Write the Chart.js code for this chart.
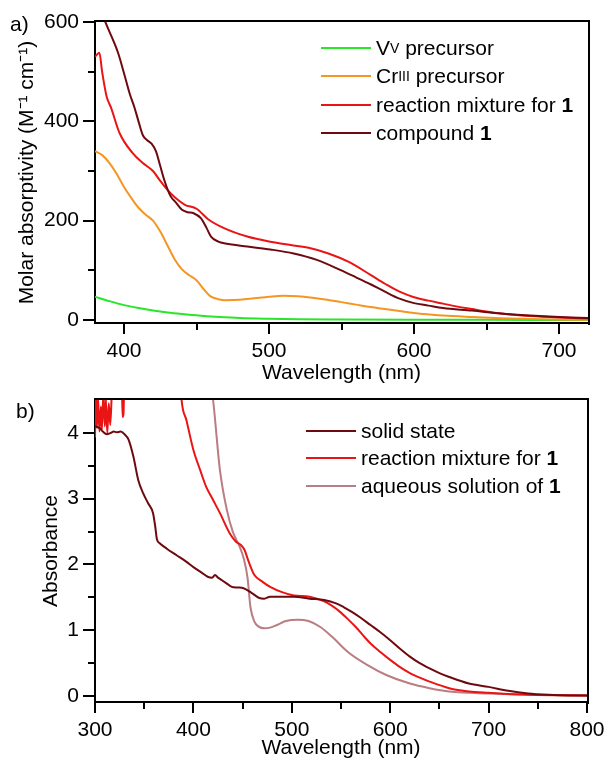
<!DOCTYPE html>
<html>
<head>
<meta charset="utf-8">
<script src="https://cdn.jsdelivr.net/npm/chart.js@4/dist/chart.umd.min.js"></script>
<style>
  body { margin: 0; background: #fff; font-family: "Liberation Sans", Arial, sans-serif; }
  #wrap { position: relative; width: 606px; height: 763px; overflow: hidden; }
  canvas { position: absolute; left: 0; }
  #chartA { top: 0; }
  #chartB { top: 392px; }
  .tag { position: absolute; font-size: 21px; line-height: 21px; color: #000; }
  .row { position: absolute; height: 28px; display: flex; align-items: center; font-size: 21px; color: #000; white-space: nowrap; }
  .row .ln { display: inline-block; width: 50px; height: 2px; margin-right: 5px; }
  .row sup { font-size: 14px; vertical-align: 7px; line-height: 0; }
</style>
</head>
<body>
<div id="wrap">
  <canvas id="chartA" width="606" height="392"></canvas>
  <canvas id="chartB" width="606" height="371"></canvas>
  <div class="tag" style="left:10px;top:13px">a)</div>
  <div class="tag" style="left:16px;top:400px">b)</div>

  <div class="row" style="left:321px;top:34px"><span class="ln" style="background:rgb(40,230,40)"></span>V<sup>V</sup>&nbsp;precursor</div>
  <div class="row" style="left:321px;top:62px"><span class="ln" style="background:rgb(245,150,35)"></span>Cr<sup>III</sup>&nbsp;precursor</div>
  <div class="row" style="left:321px;top:91px"><span class="ln" style="background:rgb(235,20,20)"></span>reaction mixture for&nbsp;<b>1</b></div>
  <div class="row" style="left:321px;top:119px"><span class="ln" style="background:rgb(110,10,15)"></span>compound&nbsp;<b>1</b></div>

  <div class="row" style="left:306px;top:417px"><span class="ln" style="background:rgb(110,10,15)"></span>solid state</div>
  <div class="row" style="left:306px;top:444px"><span class="ln" style="background:rgb(235,20,20)"></span>reaction mixture for&nbsp;<b>1</b></div>
  <div class="row" style="left:306px;top:472px"><span class="ln" style="background:rgb(185,125,130)"></span>aqueous solution of&nbsp;<b>1</b></div>
</div>
<script>
// panel a: molar absorptivity (M-1 cm-1) vs wavelength (nm)
const vNm  = [380, 390, 400, 410, 420, 430, 440, 450, 460, 470, 480, 500, 520, 550, 600, 650, 720];
const vEps = [47, 38, 30, 24, 19, 15, 12, 9.5, 7, 5.5, 4, 2.5, 1.5, 1, 0.5, 0.3, 0.2];

const crNm  = [380, 385, 390, 395, 400, 405, 410, 415, 420, 425, 430, 435, 440, 445, 450, 455, 460, 465, 470, 480, 490, 500, 510, 520, 530, 540, 550, 560, 570, 580, 590, 600, 620, 640, 660, 680, 700, 720];
const crEps = [340, 332, 316, 294, 268, 246, 226, 212, 200, 178, 150, 122, 102, 90, 80, 62, 47, 42, 40, 41, 44, 47, 49, 48, 45, 41, 36, 31, 26, 22, 18, 14, 9, 6, 3.5, 2, 1, 0.5];

const rxNm  = [380, 383, 385, 388, 391, 397, 406, 413, 420, 425, 430, 435, 442, 450, 458, 469, 485, 500, 515, 528, 541, 555, 570, 580, 590, 600, 610, 620, 630, 640, 650, 660, 680, 700, 720];
const rxEps = [530, 538, 498, 450, 428, 376, 336, 316, 300, 280, 262, 247, 232, 224, 203, 185, 168, 158, 151, 145, 134, 117, 91, 73, 57, 46, 39, 33, 27, 22, 17, 13, 8, 5, 3];

const cpNm  = [380, 384, 387, 393, 396, 400, 404, 407, 410, 413, 416, 419, 422, 425, 428, 432, 436, 440, 444, 448, 453, 457, 460, 465, 470, 485, 501, 517, 533, 549, 560, 570, 580, 590, 600, 610, 620, 640, 660, 680, 700, 720];
const cpEps = [660, 625, 601, 560, 537, 497, 455, 430, 400, 372, 362, 355, 340, 310, 280, 250, 236, 222, 217, 215, 205, 185, 168, 158, 154, 148, 142, 134, 121, 101, 86, 72, 57, 43, 34, 29, 24, 19, 13, 9, 6, 4];

// panel b: absorbance vs wavelength (nm)
const sdNm  = [300, 302, 305, 308, 312, 316, 319, 322, 326, 330, 334, 339, 344, 349, 354, 359, 361, 363, 366, 373, 383, 393, 400, 408, 415, 419, 422, 425, 429, 434, 439, 445, 451, 459, 467, 472, 478, 490, 502, 518, 533, 545, 553, 561, 570, 580, 590, 600, 610, 620, 630, 640, 650, 660, 680, 700, 720, 740, 760, 780, 800];
const sdAbs = [4.1, 4.09, 4.07, 4.02, 3.98, 4.0, 4.02, 4.01, 4.02, 3.98, 3.9, 3.64, 3.28, 3.08, 2.93, 2.78, 2.6, 2.38, 2.32, 2.24, 2.14, 2.04, 1.96, 1.88, 1.81, 1.8, 1.84, 1.8, 1.76, 1.71, 1.66, 1.65, 1.64, 1.57, 1.49, 1.48, 1.51, 1.51, 1.51, 1.48, 1.46, 1.41, 1.35, 1.28, 1.19, 1.08, 0.97, 0.85, 0.72, 0.6, 0.5, 0.42, 0.35, 0.29, 0.19, 0.14, 0.08, 0.04, 0.02, 0.01, 0.01];

const rbNm  = [300, 301, 302, 303, 304.5, 306, 307, 308.5, 310, 311, 312.5, 314, 315.5, 317, 318, 327, 328, 329, 330, 386, 388, 393, 400, 407, 413, 420, 427, 437, 443, 448, 452, 456, 462, 470, 478, 490, 502, 518, 533, 541, 549, 557, 565, 572, 580, 590, 600, 610, 620, 630, 640, 660, 680, 700, 740, 800];
const rbAbs = [3.93, 4.6, 4.08, 4.55, 4.02, 4.4, 4.05, 4.6, 4.1, 4.5, 4.0, 4.45, 4.12, 4.6, 5, 5, 4.24, 4.3, 5, 5, 4.5, 4.19, 3.74, 3.43, 3.18, 2.98, 2.78, 2.47, 2.35, 2.3, 2.22, 2.05, 1.84, 1.74, 1.66, 1.58, 1.53, 1.51, 1.44, 1.37, 1.28, 1.17, 1.05, 0.93, 0.8, 0.67, 0.55, 0.44, 0.35, 0.28, 0.22, 0.12, 0.07, 0.05, 0.02, 0.01];

const aqNm  = [300, 307, 309, 310.5, 312, 320, 415, 420, 427, 434, 440, 447, 451, 455, 458, 462, 466, 472, 478, 485, 494, 506, 517, 529, 541, 557, 577, 596, 620, 640, 660, 700, 750, 800];
const aqAbs = [5, 5, 4.25, 4.3, 5, 5, 5, 4.5, 3.43, 2.83, 2.5, 2.27, 2.1, 1.8, 1.35, 1.13, 1.06, 1.03, 1.04, 1.08, 1.14, 1.16, 1.14, 1.05, 0.9, 0.67, 0.47, 0.32, 0.19, 0.12, 0.07, 0.04, 0.02, 0.01];

// axis ticks
const xMajorA = [400, 500, 600, 700];
const xMinorA = [450, 550, 650];
const yMajorA = [0, 200, 400, 600];
const yMinorA = [100, 300, 500];
const xMajorB = [300, 400, 500, 600, 700, 800];
const xMinorB = [350, 450, 550, 650, 750];
const yMajorB = [0, 1, 2, 3, 4];
const yMinorB = [0.5, 1.5, 2.5, 3.5];

const GREEN = "rgb(40,230,40)";
const ORANGE = "rgb(245,150,35)";
const RED = "rgb(235,20,20)";
const DARK = "rgb(110,10,15)";
const ROSE = "rgb(185,125,130)";

Chart.defaults.font.family = '"Liberation Sans", Arial, sans-serif';
Chart.defaults.font.size = 21;
Chart.defaults.color = "#000";

const pts = (xs, ys) => xs.map((x, i) => ({ x: x, y: ys[i] }));

function line(label, xs, ys, color, order) {
  return {
    label: label,
    data: pts(xs, ys),
    borderColor: color,
    borderWidth: 2,
    pointRadius: 0,
    fill: false,
    cubicInterpolationMode: "monotone",
    order: order
  };
}

// draws the top/right frame and the major/minor tick marks
const frameTicks = {
  id: "frameTicks",
  afterDraw(chart, args, o) {
    const { ctx, chartArea: a } = chart;
    const x = chart.scales.x, y = chart.scales.y;
    ctx.save();
    ctx.strokeStyle = "#000";
    ctx.lineWidth = 2;
    ctx.beginPath();
    ctx.moveTo(a.left - 1, a.top - 1);
    ctx.lineTo(a.right + 1, a.top - 1);
    ctx.lineTo(a.right + 1, a.bottom + 2);
    o.xMajor.forEach(v => { const p = Math.round(x.getPixelForValue(v)); ctx.moveTo(p, a.bottom); ctx.lineTo(p, a.bottom + 11); });
    o.xMinor.forEach(v => { const p = Math.round(x.getPixelForValue(v)); ctx.moveTo(p, a.bottom); ctx.lineTo(p, a.bottom + 7); });
    o.yMajor.forEach(v => { const p = Math.round(y.getPixelForValue(v)); ctx.moveTo(a.left - 12, p); ctx.lineTo(a.left, p); });
    o.yMinor.forEach(v => { const p = Math.round(y.getPixelForValue(v)); ctx.moveTo(a.left - 7, p); ctx.lineTo(a.left, p); });
    ctx.stroke();
    ctx.restore();
  }
};

function makeChart(id, cfg) {
  return new Chart(document.getElementById(id).getContext("2d"), {
    type: "line",
    data: { datasets: cfg.datasets },
    options: {
      responsive: false,
      animation: false,
      layout: { padding: { left: 0, top: cfg.top, right: cfg.right, bottom: 0 } },
      plugins: {
        legend: { display: false },
        tooltip: { enabled: false },
        frameTicks: { xMajor: cfg.xMajor, xMinor: cfg.xMinor, yMajor: cfg.yMajor, yMinor: cfg.yMinor }
      },
      scales: {
        x: {
          type: "linear",
          min: cfg.xMin,
          max: cfg.xMax,
          grid: { display: false, drawTicks: false },
          border: { display: true, color: "#000", width: 2 },
          ticks: { padding: 16, maxRotation: 0, autoSkip: false },
          afterBuildTicks: s => { s.ticks = cfg.xMajor.map(v => ({ value: v })); },
          afterFit: s => { s.height = cfg.xHeight; s.paddingLeft = 0; s.paddingRight = 0; },
          title: { display: true, text: "Wavelength (nm)", padding: { top: 0, bottom: cfg.xTitlePad } }
        },
        y: {
          type: "linear",
          min: cfg.yMin,
          max: cfg.yMax,
          grid: { display: false, drawTicks: false },
          border: { display: true, color: "#000", width: 2 },
          ticks: { padding: 16 },
          afterBuildTicks: s => { s.ticks = cfg.yMajor.map(v => ({ value: v })); },
          afterFit: s => { s.width = 95; s.paddingTop = 0; s.paddingBottom = 0; },
          title: { display: true, text: cfg.yTitle, padding: { top: cfg.yTitlePad, bottom: 0 } }
        }
      }
    },
    plugins: [frameTicks]
  });
}

makeChart("chartA", {
  datasets: [
    line("VV precursor", vNm, vEps, GREEN, 3),
    line("CrIII precursor", crNm, crEps, ORANGE, 2),
    line("reaction mixture for 1", rxNm, rxEps, RED, 1),
    line("compound 1", cpNm, cpEps, DARK, 0)
  ],
  top: 22, right: 18, xHeight: 69,
  xMin: 380, xMax: 720, yMin: -6, yMax: 600,
  xMajor: xMajorA, xMinor: xMinorA, yMajor: yMajorA, yMinor: yMinorA,
  xTitlePad: 6,
  yTitle: "Molar absorptivity (M\u207B\u00B9 cm\u207B\u00B9)", yTitlePad: 15
});

makeChart("chartB", {
  datasets: [
    line("solid state", sdNm, sdAbs, DARK, 0),
    line("reaction mixture for 1", rbNm, rbAbs, RED, 1),
    line("aqueous solution of 1", aqNm, aqAbs, ROSE, 2)
  ],
  top: 8, right: 19, xHeight: 61,
  xMin: 300, xMax: 800, yMin: -0.09, yMax: 4.5,
  xMajor: xMajorB, xMinor: xMinorB, yMajor: yMajorB, yMinor: yMinorB,
  xTitlePad: 2,
  yTitle: "Absorbance", yTitlePad: 39
});
</script>
</body>
</html>
